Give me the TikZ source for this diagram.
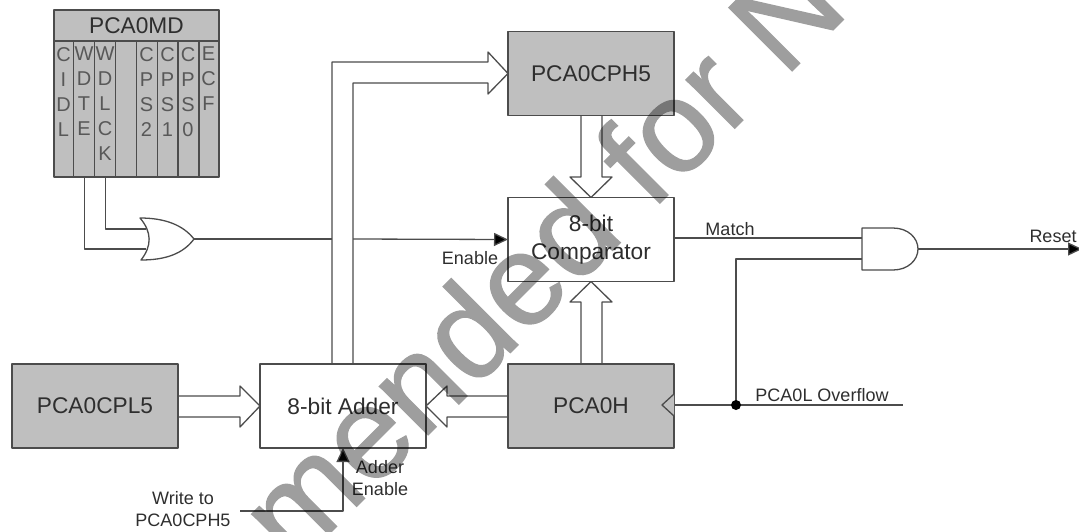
\documentclass[tikz,border=0pt]{standalone}
\usepackage{fontspec}
\setmainfont{Liberation Sans}
\newfontfamily\wmfont[FakeBold=1]{Liberation Sans}
\usetikzlibrary{calc,arrows.meta}
\definecolor{wire}{gray}{0.30}
\definecolor{boxgrey}{gray}{0.75}
\definecolor{ink}{gray}{0.18}
\tikzset{
  x=1pt,y=-1pt,
  wireline/.style={draw=wire,line width=1.3pt,line join=round},
  block/.style={wireline,minimum width=166pt,minimum height=84pt,inner sep=0pt,outer sep=0pt,text=ink,align=center,font=\fontsize{22.7}{28}\selectfont},
  regblock/.style={block,fill=boxgrey},
  plainblock/.style={block,fill=white},
  lab/.style={inner sep=0pt,text=ink,align=center,font=\fontsize{18}{22}\selectfont},
  bit/.style={inner sep=0pt,text=ink!80,align=center,anchor=north,font=\fontsize{20}{25}\selectfont},
  solidhead/.style={-{Triangle[length=14pt,width=13pt,fill=black]}},
}
\begin{document}
\begin{tikzpicture}
\useasboundingbox (0,0) rectangle (1079,531);
\clip (0,0) rectangle (1079,531);
% register PCA0MD
\node[wireline,fill=boxgrey,minimum width=165pt,minimum height=167pt,inner sep=0pt,outer sep=0pt] (md) at (136.5,93.5) {};
\node[lab,font=\fontsize{22.7}{25}\selectfont] (mdt) at (136.5,25.5) {PCA0MD};
\draw[wireline] (md.north west |- 0,41) -- (md.north east |- 0,41);
\foreach \xx in {73.5,94.5,115.5,136.5,157.5,178,199}
  \draw[wireline] (\xx,41) -- (\xx,177);
\node[bit] (b7) at (63.5,47) {C\\I\\D\\L};
\node[bit] (b6) at (84,47) {W\\D\\T\\E};
\node[bit] (b5) at (105,47) {W\\D\\L\\C\\K};
\node[bit] (b3) at (146.5,47) {C\\P\\S\\2};
\node[bit] (b2) at (167.5,47) {C\\P\\S\\1};
\node[bit] (b1) at (188,47) {C\\P\\S\\0};
\node[bit] (b0) at (208.5,47) {E\\C\\F};
% blocks
\node[regblock] (cph) at (591,73.5) {PCA0CPH5};
\node[plainblock] (cmp) at (591,239.5) {8-bit\\Comparator};
\node[regblock] (cpl) at (95,406) {PCA0CPL5};
\node[plainblock] (add) at (343,406) {8-bit Adder};
\node[regblock] (pch) at (591,406) {PCA0H};
% OR gate
\coordinate (orA) at (146,229);
\coordinate (orB) at (146,249);
\coordinate (orOut) at (194,239);
\draw[wireline,fill=white] (140,218) .. controls (152,232) and (152,246) .. (141,260)
  .. controls (165,260) and (183,254) .. (orOut)
  .. controls (183,225) and (165,218) .. cycle;
\draw[wireline] (105.5,177) |- (orA);
\draw[wireline] (84.5,177) |- (orB);
% AND gate
\coordinate (anA) at (862,238);
\coordinate (anB) at (862,259);
\coordinate (anOut) at (918,249);
\draw[wireline,fill=white] (862,228) -- (893,228) .. controls (908,228) and (918,238) .. (anOut)
  .. controls (918,260) and (908,270) .. (893,270) -- (862,270) -- cycle;
% enable line, broken by the bus
\coordinate (busL) at (332,239);
\coordinate (busR) at (353,239);
\draw[wireline] (orOut) -- (busL);
\draw[wireline,solidhead] (busR) -- (cmp.west);
\node[lab] (enable) at (470,258) {Enable};
% bus adder -> CPH5
\draw[wireline] (332,364) -- (332,62) -- (488,62) -- (488,52) -- (cph.west) -- (488,94) -- (488,83) -- (353,83) -- (353,364);
% bus CPH5 -> comparator
\draw[wireline] (581,115) -- (581,177) -- (570,177) -- (cmp.north) -- (612,177) -- (602,177) -- (602,115);
% bus PCA0H -> comparator
\draw[wireline] (581,364) -- (581,302) -- (570,302) -- (cmp.south) -- (612,302) -- (602,302) -- (602,364);
% bus CPL5 -> adder
\draw[wireline] (178,396) -- (240,396) -- (240,386) -- (add.west) -- (240,427) -- (240,417) -- (178,417);
% bus PCA0H -> adder
\draw[wireline] (508,396) -- (447,396) -- (447,386) -- (add.east) -- (447,427) -- (447,417) -- (508,417);
% match and reset
\draw[wireline] (cmp.east |- anA) -- (anA);
\node[lab] (match) at (730,229) {Match};
\coordinate (rstEnd) at (1082,249);
\draw[wireline,solidhead] (anOut) -- (rstEnd);
\node[lab] (reset) at (1053,236) {Reset};
% overflow
\coordinate (ovEnd) at (903,405);
\coordinate (jn) at (736,405);
\draw[wireline] (662,405) -- (ovEnd);
\draw[wireline] (jn) |- (anB);
\fill[black] (jn) circle[radius=5pt];
\draw[wireline,fill=boxgrey] (674,394) -- (662,405) -- (674,416);
\node[lab] (over) at (822,395) {PCA0L Overflow};
% write
\coordinate (wrStart) at (240,511);
\coordinate (wrKnee) at (343,511);
\draw[wireline,solidhead] (wrStart) -- (wrKnee) -- (add.south);
\node[lab] (wr) at (183,509) {Write to\\PCA0CPH5};
\node[lab] (ae) at (380,478) {Adder\\Enable};
% watermark
\begin{scope}[transparency group,opacity=.38]
\node[inner sep=0pt,text=black,rotate=45,anchor=base west,font=\wmfont\fontsize{130}{130}\selectfont] (wm) at (294,569) {mended for Ne};
\end{scope}
\end{tikzpicture}
\end{document}
